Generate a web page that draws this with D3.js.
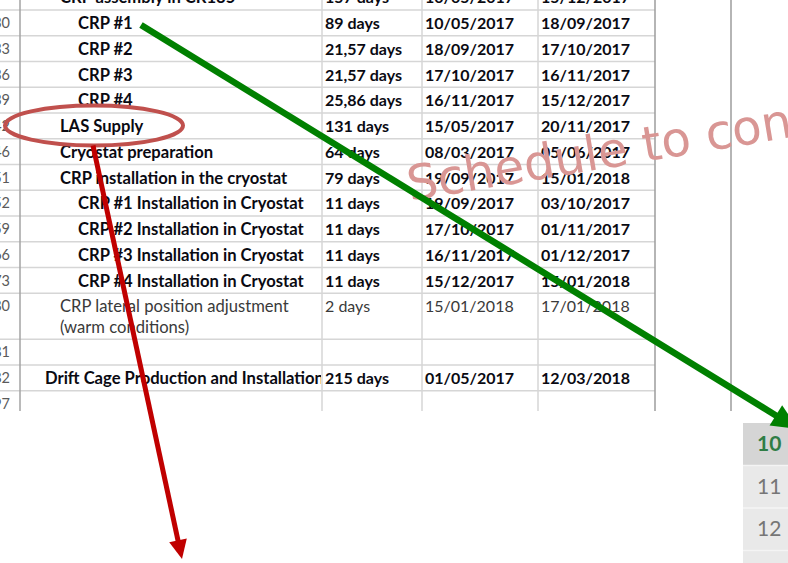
<!DOCTYPE html>
<html><head><meta charset="utf-8">
<script src="https://cdn.jsdelivr.net/npm/d3@7"></script>
<style>html,body{margin:0;padding:0;background:#fff;overflow:hidden}</style>
</head><body>
<svg id="c" width="788" height="563"></svg>
<script>
// ---- data ----
const rowNumbers = ["", "130", "133", "136", "139", "142", "146", "151", "152", "159", "166", "173", "180", "181", "182", "197"];
const tasks = ["CRP assembly in CR185", "CRP #1", "CRP #2", "CRP #3", "CRP #4", "LAS Supply", "Cryostat preparation",
  "CRP installation in the cryostat", "CRP #1 Installation in Cryostat", "CRP #2 Installation in Cryostat",
  "CRP #3 Installation in Cryostat", "CRP #4 Installation in Cryostat",
  "CRP lateral position adjustment\n(warm conditions)", "", "Drift Cage Production and Installation", ""];
const outlineLevels = [1, 2, 2, 2, 2, 1, 1, 1, 2, 2, 2, 2, 1, 0, 0, 0];
const durations = ["157 days", "89 days", "21,57 days", "21,57 days", "25,86 days", "131 days", "64 days", "79 days",
  "11 days", "11 days", "11 days", "11 days", "2 days", "", "215 days", ""];
const starts = ["10/05/2017", "10/05/2017", "18/09/2017", "17/10/2017", "16/11/2017", "15/05/2017", "08/03/2017", "19/09/2017",
  "19/09/2017", "17/10/2017", "16/11/2017", "15/12/2017", "15/01/2018", "", "01/05/2017", ""];
const finishes = ["15/12/2017", "18/09/2017", "17/10/2017", "16/11/2017", "15/12/2017", "20/11/2017", "05/06/2017", "15/01/2018",
  "03/10/2017", "01/11/2017", "01/12/2017", "15/01/2018", "17/01/2018", "", "12/03/2018", ""];
const plainTasks = ["CRP lateral position adjustment\n(warm conditions)"];
const watermarkText = "Schedule to con";
const sheetRowNumbers = ["10", "11", "12", "13"];
const highlightedTask = "LAS Supply";
const linkedTask = "CRP #1";

// ---- layout ----
const svg = d3.select("#c");
const tableBottom = 411;
const lineCount = tasks.map(t => t.split("\n").length);
const spans = lineCount.map(n => 1 + 0.79 * (n - 1));
const cum = [0];
spans.forEach(s => cum.push(cum[cum.length - 1] + s));
const y = d3.scaleLinear().domain([0, 1]).range([-15.75, 10]);
const colEdges = [20, 322, 422, 538, 655];
const indent = d3.scaleLinear().domain([0, 1, 2]).range([45, 60, 78]);
const FONT = "Lato, 'Open Sans', sans-serif";
const FS_TASK = 16.6, FS_VAL = 16;

const defs = svg.append("defs");
defs.append("clipPath").attr("id", "tbl")
  .append("rect").attr("x", -5).attr("y", -5).attr("width", 800).attr("height", tableBottom + 5);
defs.append("clipPath").attr("id", "taskcol")
  .append("rect").attr("x", colEdges[0]).attr("y", -20).attr("width", colEdges[1] - colEdges[0] - 1).attr("height", 500);

const tbl = svg.append("g").attr("clip-path", "url(#tbl)");

// horizontal grid lines
tbl.append("g").selectAll("line").data(cum.slice(1)).join("line")
  .attr("x1", 0).attr("x2", colEdges[4])
  .attr("y1", d => y(d)).attr("y2", d => y(d))
  .attr("stroke", "#d6d6d6").attr("stroke-width", 1.5);

// vertical grid lines
const vlines = [
  {x: colEdges[1], c: "#d6d6d6"}, {x: colEdges[2], c: "#d6d6d6"}, {x: colEdges[3], c: "#d6d6d6"},
  {x: colEdges[0], c: "#a3a3a3"}, {x: colEdges[4], c: "#9c9c9c"}, {x: 731, c: "#9c9c9c"}
];
tbl.append("g").selectAll("line").data(vlines).join("line")
  .attr("x1", d => d.x).attr("x2", d => d.x).attr("y1", 0).attr("y2", tableBottom)
  .attr("stroke", d => d.c).attr("stroke-width", 1.5);

const rows = tasks.map((t, i) => ({
  i, num: rowNumbers[i], task: t, level: outlineLevels[i], dur: durations[i], start: starts[i], fin: finishes[i],
  top: y(cum[i]), plain: plainTasks.includes(t)
}));

// row numbers (the sheet's row header is partly scrolled off to the left)
tbl.append("g").selectAll("text").data(rows.filter(r => r.num)).join("text")
  .attr("x", 10).attr("y", r => r.top + 18)
  .attr("text-anchor", "end").attr("font-family", FONT).attr("font-size", 14.5)
  .attr("fill", "#5a5a5a").text(r => r.num);

// task names
const tg = tbl.append("g").attr("clip-path", "url(#taskcol)");
tg.selectAll("text").data(rows.filter(r => r.task)).join("text")
  .attr("x", r => indent(r.level)).attr("y", r => r.top + 19)
  .attr("font-family", FONT).attr("font-size", FS_TASK)
  .attr("font-weight", r => r.plain ? 400 : 700)
  .attr("fill", r => r.plain ? "#3a3a3a" : "#0a0a12")
  .each(function (r) {
    const lines = r.task.split("\n");
    d3.select(this).selectAll("tspan").data(lines).join("tspan")
      .attr("x", indent(r.level)).attr("dy", (d, k) => k === 0 ? 0 : 21).text(d => d);
  });

// value columns
const valueCols = [{key: "dur", x: colEdges[1] + 3}, {key: "start", x: colEdges[2] + 3}, {key: "fin", x: colEdges[3] + 3}];
valueCols.forEach(col => {
  tbl.append("g").selectAll("text").data(rows.filter(r => r[col.key])).join("text")
    .attr("x", col.x).attr("y", r => r.top + 19)
    .attr("font-family", FONT).attr("font-size", FS_VAL)
    .attr("font-weight", r => r.plain ? 400 : 700)
    .attr("fill", r => r.plain ? "#3a3a3a" : "#0a0a12")
    .text(r => r[col.key]);
});

// ---- watermark ----
svg.append("text").attr("x", 410).attr("y", 201)
  .attr("transform", "rotate(-9.5,410,201)")
  .attr("font-family", "'DejaVu Sans', sans-serif").attr("font-size", 48.5)
  .attr("fill", "#d99694").text(watermarkText);

// ---- Excel row header fragment ----
const frag = svg.append("g");
const fy = d3.scaleLinear().domain([0, 1]).range([423, 465.5]);
frag.selectAll("rect").data(sheetRowNumbers).join("rect")
  .attr("x", 743).attr("y", (d, i) => fy(i)).attr("width", 50).attr("height", fy(1) - fy(0))
  .attr("fill", (d, i) => i === 0 ? "#d5d5d5" : "#e9e9e9");
frag.selectAll("line").data(sheetRowNumbers.slice(1)).join("line")
  .attr("x1", 743).attr("x2", 788).attr("y1", (d, i) => fy(i + 1)).attr("y2", (d, i) => fy(i + 1))
  .attr("stroke", "#f4f4f4").attr("stroke-width", 1.5);
frag.selectAll("text").data(sheetRowNumbers).join("text")
  .attr("x", 757).attr("y", (d, i) => fy(i) + 28)
  .attr("font-family", FONT).attr("font-size", 21)
  .attr("font-weight", (d, i) => i === 0 ? 700 : 400)
  .attr("fill", (d, i) => i === 0 ? "#2f7d45" : "#767676").text(d => d);

// ---- annotations ----
function arrow(g, x1, y1, x2, y2, color, w, headLen, headW) {
  const a = Math.atan2(y2 - y1, x2 - x1);
  const bx = x2 - headLen * Math.cos(a), by = y2 - headLen * Math.sin(a);
  g.append("line").attr("x1", x1).attr("y1", y1).attr("x2", bx + Math.cos(a)).attr("y2", by + Math.sin(a))
    .attr("stroke", color).attr("stroke-width", w);
  const px = -Math.sin(a), py = Math.cos(a);
  g.append("path").attr("d", d3.line()([[x2, y2], [bx + px * headW / 2, by + py * headW / 2], [bx - px * headW / 2, by - py * headW / 2]]) + "Z")
    .attr("fill", color);
}
const ann = svg.append("g");
const las = rows.find(r => r.task === highlightedTask);
const crp1 = rows.find(r => r.task === linkedTask);
const ecx = 94, ecy = las.top + 12.5, erx = 89, ery = 20;
ann.append("ellipse").attr("cx", ecx).attr("cy", ecy).attr("rx", erx).attr("ry", ery)
  .attr("fill", "none").attr("stroke", "#c0504d").attr("stroke-width", 4);
arrow(ann, 141, crp1.top + 15, 798, 429, "#008000", 6.5, 26, 24);
arrow(ann, 93, ecy + ery, 182, 559, "#c00000", 5, 19, 18);
</script>
</body></html>
